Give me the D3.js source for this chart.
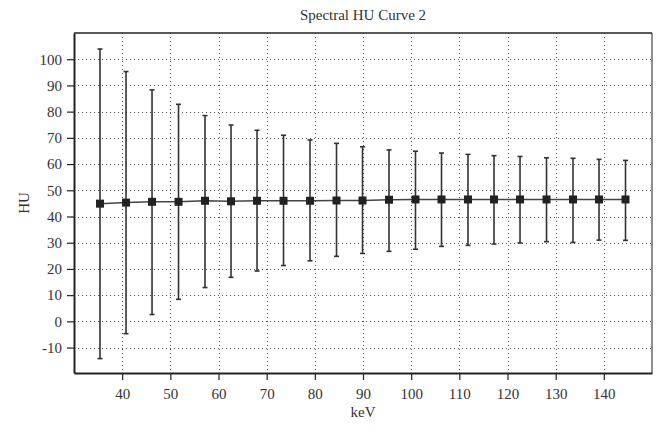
<!DOCTYPE html>
<html>
<head>
<meta charset="utf-8">
<script src="https://cdn.jsdelivr.net/npm/d3@7"></script>
<style>
  html, body { margin: 0; padding: 0; background: #fff; }
  svg { display: block; }
</style>
</head>
<body>
<svg id="chart" width="659" height="432"></svg>
<script>
// ---- data ----
const keV = [35.4, 40.8, 46.2, 51.7, 57.2, 62.6, 68.0, 73.5, 79.0, 84.5, 89.9,
             95.4, 100.9, 106.3, 111.8, 117.2, 122.6, 128.1, 133.6, 139.0, 144.5];
const meanHU = [44.9, 45.3, 45.6, 45.6, 46.0, 45.8, 46.0, 46.0, 46.0, 46.1, 46.1,
                46.4, 46.5, 46.5, 46.5, 46.5, 46.5, 46.5, 46.5, 46.5, 46.5];
const upperHU = [103.9, 95.3, 88.3, 82.8, 78.5, 74.9, 72.9, 71.0, 69.2, 67.9, 66.6,
                 65.4, 64.9, 64.2, 63.7, 63.2, 62.9, 62.4, 62.2, 61.8, 61.4];
const lowerHU = [-14.2, -4.7, 2.6, 8.4, 12.9, 16.8, 19.2, 21.3, 23.1, 24.8, 25.9,
                 26.7, 27.5, 28.6, 29.0, 29.5, 29.9, 30.4, 30.1, 31.0, 30.9];
const xTicks = [40, 50, 60, 70, 80, 90, 100, 110, 120, 130, 140];
const yTicks = [-10, 0, 10, 20, 30, 40, 50, 60, 70, 80, 90, 100];
const titleText = "Spectral HU Curve 2";
const xLabel = "keV";
const yLabel = "HU";

const points = keV.map((k, i) => ({ k, m: meanHU[i], lo: lowerHU[i], hi: upperHU[i] }));
const FONT = '"Liberation Serif", "Times New Roman", serif';

// ---- layout ----
const svg = d3.select("#chart");
const margin = { left: 74, right: 7, top: 33, bottom: 59 };
const W = 659, H = 432;
const x = d3.scaleLinear().domain([30, 150]).range([margin.left, W - margin.right]);
const y = d3.scaleLinear().domain([-19.7, 110]).range([H - margin.bottom, margin.top]);

const x0 = margin.left, x1 = W - margin.right, y0 = H - margin.bottom, y1 = margin.top;

// grid
const grid = svg.append("g").attr("stroke", "#555").attr("stroke-width", 1)
  .attr("stroke-dasharray", "1,3");
grid.selectAll("line.v").data(xTicks).join("line").attr("class", "v")
  .attr("x1", d => Math.round(x(d)) + 0.5).attr("x2", d => Math.round(x(d)) + 0.5)
  .attr("y1", y1).attr("y2", y0);
grid.selectAll("line.h").data(yTicks).join("line").attr("class", "h")
  .attr("y1", d => Math.round(y(d)) + 0.5).attr("y2", d => Math.round(y(d)) + 0.5)
  .attr("x1", x0).attr("x2", x1);

// frame
svg.append("line").attr("x1", x0).attr("x2", x1).attr("y1", y1).attr("y2", y1)
  .attr("stroke", "#222").attr("stroke-width", 1.5);
svg.append("line").attr("x1", x1).attr("x2", x1).attr("y1", y1).attr("y2", y0)
  .attr("stroke", "#222").attr("stroke-width", 1);

// axes
const fmt = d => String(d);
const xAxis = svg.append("g").attr("transform", `translate(0,${y0})`)
  .call(d3.axisBottom(x).tickValues(xTicks).tickFormat(fmt).tickSize(7).tickSizeOuter(0).tickPadding(8));
const yAxis = svg.append("g").attr("transform", `translate(${x0},0)`)
  .call(d3.axisLeft(y).tickValues(yTicks).tickFormat(fmt).tickSize(7).tickSizeOuter(0).tickPadding(5));
[xAxis, yAxis].forEach(a => {
  a.select(".domain").attr("stroke", "#222").attr("stroke-width", 2);
  a.selectAll(".tick line").attr("stroke", "#222").attr("stroke-width", 1.2);
  a.selectAll("text").style("font-size", "15px").style("fill", "#333")
    .style("font-family", FONT);
});

// error bars
const eb = svg.append("g").attr("stroke", "#333").attr("stroke-width", 1.6);
eb.selectAll("line.bar").data(points).join("line").attr("class", "bar")
  .attr("x1", d => x(d.k)).attr("x2", d => x(d.k))
  .attr("y1", d => y(d.hi)).attr("y2", d => y(d.lo));
eb.selectAll("line.capHi").data(points).join("line").attr("class", "capHi")
  .attr("x1", d => x(d.k) - 2.5).attr("x2", d => x(d.k) + 2.5)
  .attr("y1", d => y(d.hi)).attr("y2", d => y(d.hi));
eb.selectAll("line.capLo").data(points).join("line").attr("class", "capLo")
  .attr("x1", d => x(d.k) - 2.5).attr("x2", d => x(d.k) + 2.5)
  .attr("y1", d => y(d.lo)).attr("y2", d => y(d.lo));

// mean line
svg.append("path").datum(points)
  .attr("fill", "none").attr("stroke", "#444").attr("stroke-width", 1.5)
  .attr("d", d3.line().x(d => x(d.k)).y(d => y(d.m)));

// markers
svg.selectAll("rect.mk").data(points).join("rect").attr("class", "mk")
  .attr("x", d => x(d.k) - 4).attr("y", d => y(d.m) - 4)
  .attr("width", 8).attr("height", 8).attr("fill", "#222");

// titles
const label = (sel) => sel.style("font-family", FONT).style("font-size", "15px").style("fill", "#333")
  .attr("text-anchor", "middle");
svg.append("text").attr("x", (x0 + x1) / 2).attr("y", 20).call(label).text(titleText);
svg.append("text").attr("x", (x0 + x1) / 2).attr("y", 417).call(label).text(xLabel);
svg.append("text").attr("transform", `translate(29,${(y0 + y1) / 2}) rotate(-90)`)
  .call(label).text(yLabel);
</script>
</body>
</html>
